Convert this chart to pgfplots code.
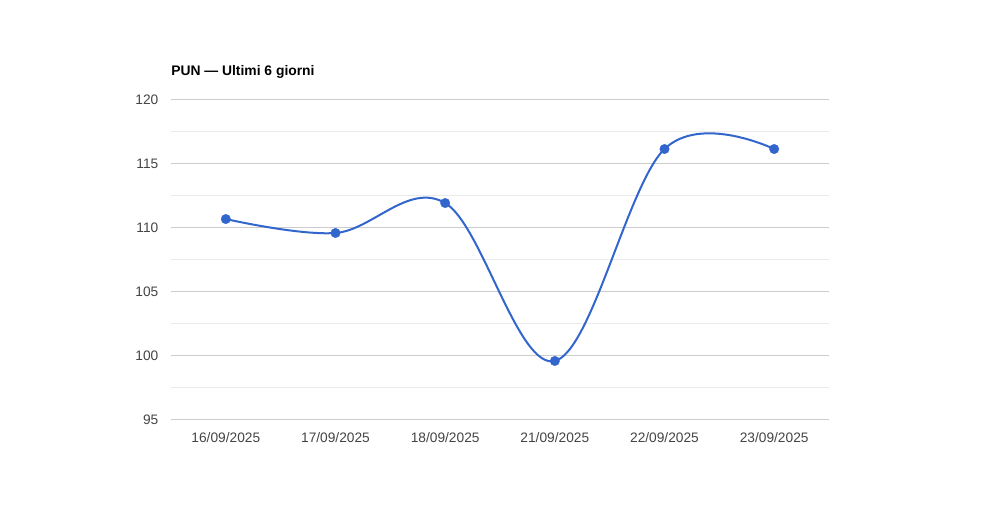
\documentclass[border=0pt]{standalone}
\usepackage{pgfplots}
\pgfplotsset{compat=1.18}
\usepackage{fontspec}
\setmainfont{Liberation Sans}
\definecolor{gline}{HTML}{3366CC}
\definecolor{majgrid}{HTML}{CCCCCC}
\definecolor{mingrid}{HTML}{EBEBEB}
\definecolor{ticktxt}{HTML}{444444}
\begin{document}
\begin{tikzpicture}
\path[use as bounding box] (0,0) rectangle (750pt,390pt);
\begin{axis}[
    at={(128.25pt,75pt)}, anchor=south west,
    width=493.5pt, height=240pt, scale only axis,
    xmin=-0.5, xmax=5.5, ymin=95, ymax=120,
    xtick={0,...,5},
    xticklabels={16/09/2025,17/09/2025,18/09/2025,21/09/2025,22/09/2025,23/09/2025},
    ytick={95,100,...,120},
    minor y tick num=1,
    ymajorgrids, yminorgrids,
    major grid style={majgrid, line width=0.75pt},
    minor grid style={mingrid, line width=0.75pt},
    axis line style={draw=none},
    major tick length=0pt, minor tick length=0pt,
    tick label style={font=\fontsize{10.3pt}{12pt}\selectfont, text=ticktxt},
    /pgf/number format/assume math mode=true,
    yticklabel style={xshift=-6pt},
    xticklabel style={yshift=-6pt},
    title={\textbf{PUN — Ultimi 6 giorni}},
    title style={at={(0,1)}, anchor=base west, inner sep=0pt, yshift=12pt,
        font=\fontsize{10.4pt}{12pt}\selectfont},
    clip=false,
]
\addplot[gline, line width=1.5pt, smooth, tension=0.6]
  coordinates {(0,110.70) (1,109.61) (2,111.95) (3,99.61) (4,116.17) (5,116.17)};
\addplot[gline, only marks, mark=*, mark size=3.6pt,
    mark options={solid, fill=gline, draw=gline, line width=0.2pt}]
  coordinates {(0,110.70) (1,109.61) (2,111.95) (3,99.61) (4,116.17) (5,116.17)};
\end{axis}
\end{tikzpicture}
\end{document}
